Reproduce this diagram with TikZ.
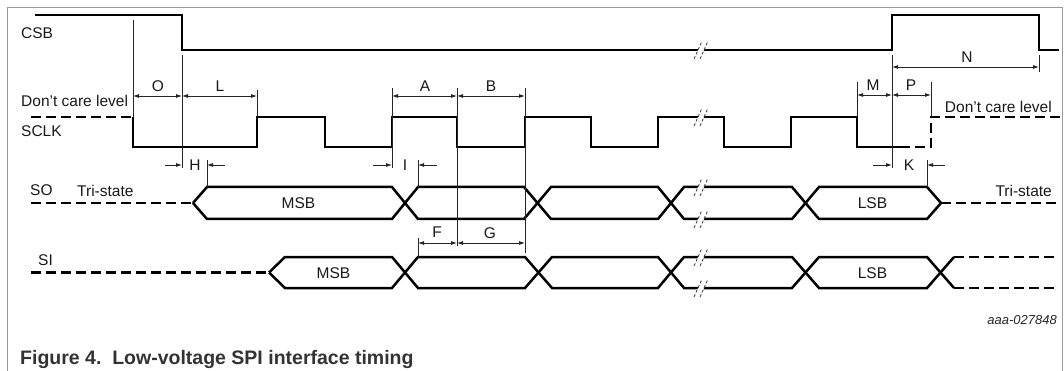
\documentclass[tikz,border=0pt]{standalone}
\usepackage{fontspec}
\setmainfont{Liberation Sans}
\usetikzlibrary{arrows.meta}
\newcommand{\sqt}{\char"0027\relax}
\begin{document}
\begin{tikzpicture}[x=1pt,y=-1pt,
  sig/.style={line width=2.5pt, line join=miter, black},
  dsig/.style={sig, dash pattern=on 10pt off 5pt},
  guide/.style={line width=0.8pt, black!85},
  dimarr/.style={guide, {Latex[length=6pt,width=4pt]}-{Latex[length=6pt,width=4pt]}},
  inarr/.style={guide, -{Latex[length=6pt,width=4pt]}},
  lbl/.style={font=\fontsize{15.5}{18}\selectfont, inner sep=0pt, text=black!90},
  brkline/.style={line width=0.8pt, black!75, dash pattern=on 3pt off 2pt},
  frameline/.style={line width=0.8pt, black!40},
  brk/.pic={
    \fill[white] (-7,9)--(1,-9)--(7,-9)--(-1,9)--cycle;
    \draw[brkline] (-7,9)--(1,-9);
    \draw[brkline] (-1,9)--(7,-9);
  }]
\useasboundingbox (0,0) rectangle (1064,371);
% frame
\draw[frameline] (7,371)--(7,7)--(1062,7)--(1062,371);

% ---------- CSB ----------
\draw[sig] (35,15)--(182,15)--(182,50)--(892,50)--(892,15)--(1039,15)--(1039,50)--(1059,50);

% ---------- SCLK ----------
\draw[dsig] (31,117)--(133,117);
\draw[sig] (133,117)--(133,147)--(257,147)--(257,117)--(325,117)--(325,147)--(392,147)--(392,117)--(457,117)--(457,147)--(525,147)--(525,117)--(591,117)--(591,147)--(658,147)--(658,117)--(724,117)--(724,147)--(791,147)--(791,117)--(857,117)--(857,147)--(900,147);
\draw[dsig] (900,147)--(931,147)--(931,117)--(1060,117);

% ---------- SO ----------
\draw[dsig] (31,203)--(193,203);
\draw[sig] (193,203)--(207,187)--(392,187)--(418,219)--(524,219)--(551,187)--(658,187)--(684,219)--(792,219)--(819,187)--(927,187)--(941,203);
\draw[sig] (193,203)--(207,219)--(392,219)--(418,187)--(524,187)--(551,219)--(658,219)--(684,187)--(792,187)--(819,219)--(927,219)--(941,203);
\draw[dsig] (941,203)--(1060,203);

% ---------- SI ----------
\draw[dsig] (31,272.5)--(269,272.5);
\draw[sig] (269,272.5)--(285,257)--(392,257)--(418,288)--(525,288)--(552,257)--(658,257)--(684,288)--(792,288)--(819,257)--(927,257)--(954,288);
\draw[sig] (269,272.5)--(285,288)--(392,288)--(418,257)--(525,257)--(552,288)--(658,288)--(684,257)--(792,257)--(819,288)--(927,288)--(954,257);
\draw[dsig] (954,257)--(1055,257);
\draw[dsig] (954,288)--(1055,288);

% ---------- breaks ----------
\pic at (701,50) {brk};
\pic at (701,117) {brk};
\pic at (701,187) {brk};
\pic at (701,219) {brk};
\pic at (701,257) {brk};
\pic at (701,288) {brk};

% ---------- guide lines ----------
\draw[guide] (133,20)--(133,117);
\draw[guide] (182,55)--(182,168);
\draw[guide] (257,90)--(257,117);
\draw[guide] (207,160)--(207,187);
\draw[guide] (392,88)--(392,168);
\draw[guide] (418,160)--(418,187);
\draw[guide] (457,88)--(457,246);
\draw[guide] (525,88)--(525,253);
\draw[guide] (418,238)--(418,257);
\draw[guide] (857,82)--(857,117);
\draw[guide] (892,55)--(892,168);
\draw[guide] (931,82)--(931,117);
\draw[guide] (927,160)--(927,187);
\draw[guide] (1039,55)--(1039,72);

% ---------- dimensions ----------
\draw[dimarr] (133,96)--(182,96);
\draw[dimarr] (182,96)--(257,96);
\draw[dimarr] (392,96)--(457,96);
\draw[dimarr] (457,96)--(525,96);
\draw[dimarr] (857,95)--(892,95);
\draw[dimarr] (892,95)--(931,95);
\draw[dimarr] (892,67)--(1039,67);
\draw[dimarr] (418,243)--(457,243);
\draw[dimarr] (457,243)--(525,243);
\draw[inarr] (165,165)--(182,165);
\draw[inarr] (225,165)--(207,165);
\draw[inarr] (373,165)--(392,165);
\draw[inarr] (437,165)--(418,165);
\draw[inarr] (873,165)--(892,165);
\draw[inarr] (945,165)--(927,165);

% ---------- labels ----------
\node[lbl] (lO) at (158,86) {O};
\node[lbl] (lL) at (220,86) {L};
\node[lbl] (lA) at (425,86) {A};
\node[lbl] (lB) at (491,86) {B};
\node[lbl] (lM) at (873,85) {M};
\node[lbl] (lP) at (911,85) {P};
\node[lbl] (lN) at (967,57) {N};
\node[lbl] (lF) at (437,232) {F};
\node[lbl] (lG) at (490,233) {G};
\node[lbl] (lH) at (195,165) {H};
\node[lbl] (lI) at (405,165) {I};
\node[lbl] (lK) at (909,165) {K};

\node[lbl, anchor=west] (csb) at (21,33) {CSB};
\node[lbl, anchor=west] (dcl1) at (21,101) {Don\sqt t care level};
\node[lbl, anchor=west] (sclk) at (21,131) {SCLK};
\node[lbl, anchor=west] (so) at (30,190) {SO};
\node[lbl, anchor=west] (ts1) at (77,191) {Tri-state};
\node[lbl, anchor=west] (si) at (38,260) {SI};
\node[lbl, anchor=east] (dcl2) at (1052,107) {Don\sqt t care level};
\node[lbl, anchor=east] (ts2) at (1052,191) {Tri-state};

\node[lbl] (somsb) at (298.5,203) {MSB};
\node[lbl] (solsb) at (872.5,203) {LSB};
\node[lbl] (simsb) at (333.5,273) {MSB};
\node[lbl] (silsb) at (872.5,273) {LSB};

\node[font=\fontsize{13}{15}\selectfont\itshape, inner sep=0pt, anchor=east, text=black!85] (code) at (1057,320) {aaa-027848};
\node[font=\fontsize{19.5}{22}\selectfont\bfseries, inner sep=0pt, anchor=base west, text=black!80] (cap) at (20,364) {Figure 4.\ \ Low-voltage SPI interface timing};
\end{tikzpicture}
\end{document}
